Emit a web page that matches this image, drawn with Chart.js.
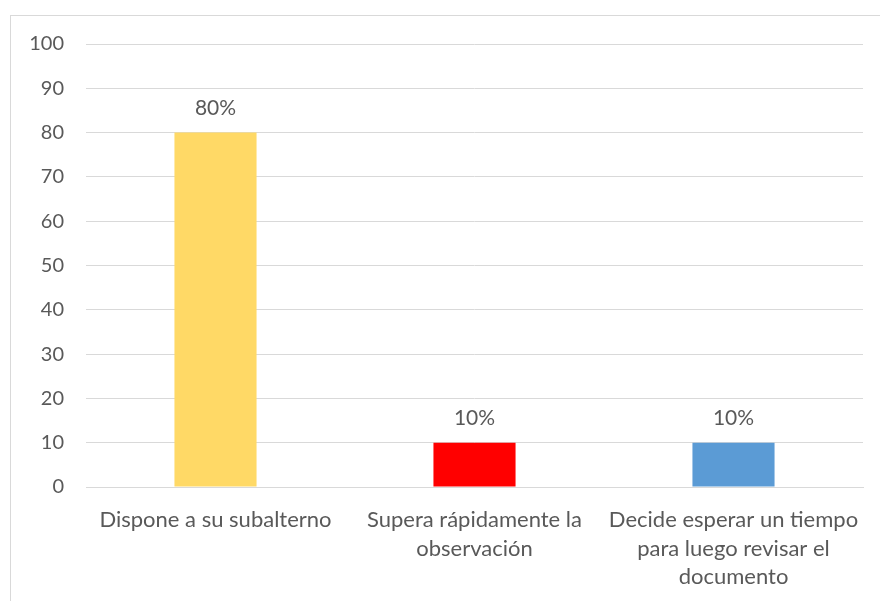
<!DOCTYPE html>
<html>
<head>
<meta charset="utf-8">
<script src="https://cdn.jsdelivr.net/npm/chart.js@4"></script>
<style>
  html, body { margin: 0; padding: 0; background: #fff; }
  #wrap { position: relative; width: 880px; height: 601px; overflow: hidden; }
  #frame {
    position: absolute; left: 10px; top: 15px; width: 900px; height: 700px;
    border-top: 1px solid #d9d9d9; border-left: 1px solid #d9d9d9;
  }
  #chart { position: absolute; left: 0; top: 0; }
</style>
</head>
<body>
<div id="wrap">
  <div id="frame"></div>
  <canvas id="chart" width="880" height="601"></canvas>
</div>
<script>
const CATEGORIES = [
    'Dispone a su subalterno',
    ['Supera rápidamente la', 'observación'],
    ['Decide esperar un tiempo', 'para luego revisar el', 'documento']
];
const VALUES = [80, 10, 10];
const BAR_COLORS = ['#FFD966', '#FF0000', '#5B9BD5'];
const Y_TICKS = [0, 10, 20, 30, 40, 50, 60, 70, 80, 90, 100];

const TEXT_COLOR = '#595959';
const FONT = 'Lato, Carlito, sans-serif';

// writes "NN%" above each bar
const valueLabels = {
    id: 'valueLabels',
    afterDatasetsDraw(chart) {
        const ctx = chart.ctx;
        const meta = chart.getDatasetMeta(0);
        ctx.save();
        ctx.fillStyle = TEXT_COLOR;
        ctx.font = '21px ' + FONT;
        ctx.textAlign = 'center';
        ctx.textBaseline = 'middle';
        meta.data.forEach(function (bar, i) {
            ctx.fillText(VALUES[i] + '%', bar.x, bar.y - 24);
        });
        ctx.restore();
    }
};

new Chart(document.getElementById('chart'), {
    type: 'bar',
    data: {
        labels: CATEGORIES,
        datasets: [{
            data: VALUES,
            backgroundColor: BAR_COLORS,
            barPercentage: 0.317,
            categoryPercentage: 1
        }]
    },
    options: {
        responsive: false,
        animation: false,
        layout: { padding: { top: 44, right: 17, left: 0, bottom: 0 } },
        plugins: {
            legend: { display: false },
            tooltip: { enabled: false }
        },
        scales: {
            x: {
                grid: { display: false, drawTicks: false },
                border: { display: true, color: '#d9d9d9', width: 1 },
                ticks: {
                    color: TEXT_COLOR,
                    font: { family: FONT, size: 22, lineHeight: 1.29 },
                    padding: 19,
                    maxRotation: 0,
                    autoSkip: false
                },
                afterFit(scale) { scale.height = 114; }
            },
            y: {
                min: 0,
                max: 100,
                afterBuildTicks(scale) {
                    scale.ticks = Y_TICKS.map(function (v) { return { value: v }; });
                },
                grid: { color: '#d9d9d9', lineWidth: 1, drawTicks: false },
                border: { display: false },
                ticks: {
                    color: TEXT_COLOR,
                    font: { family: FONT, size: 20 },
                    padding: 22
                },
                afterFit(scale) { scale.width = 86; }
            }
        }
    },
    plugins: [valueLabels]
});
</script>
</body>
</html>
